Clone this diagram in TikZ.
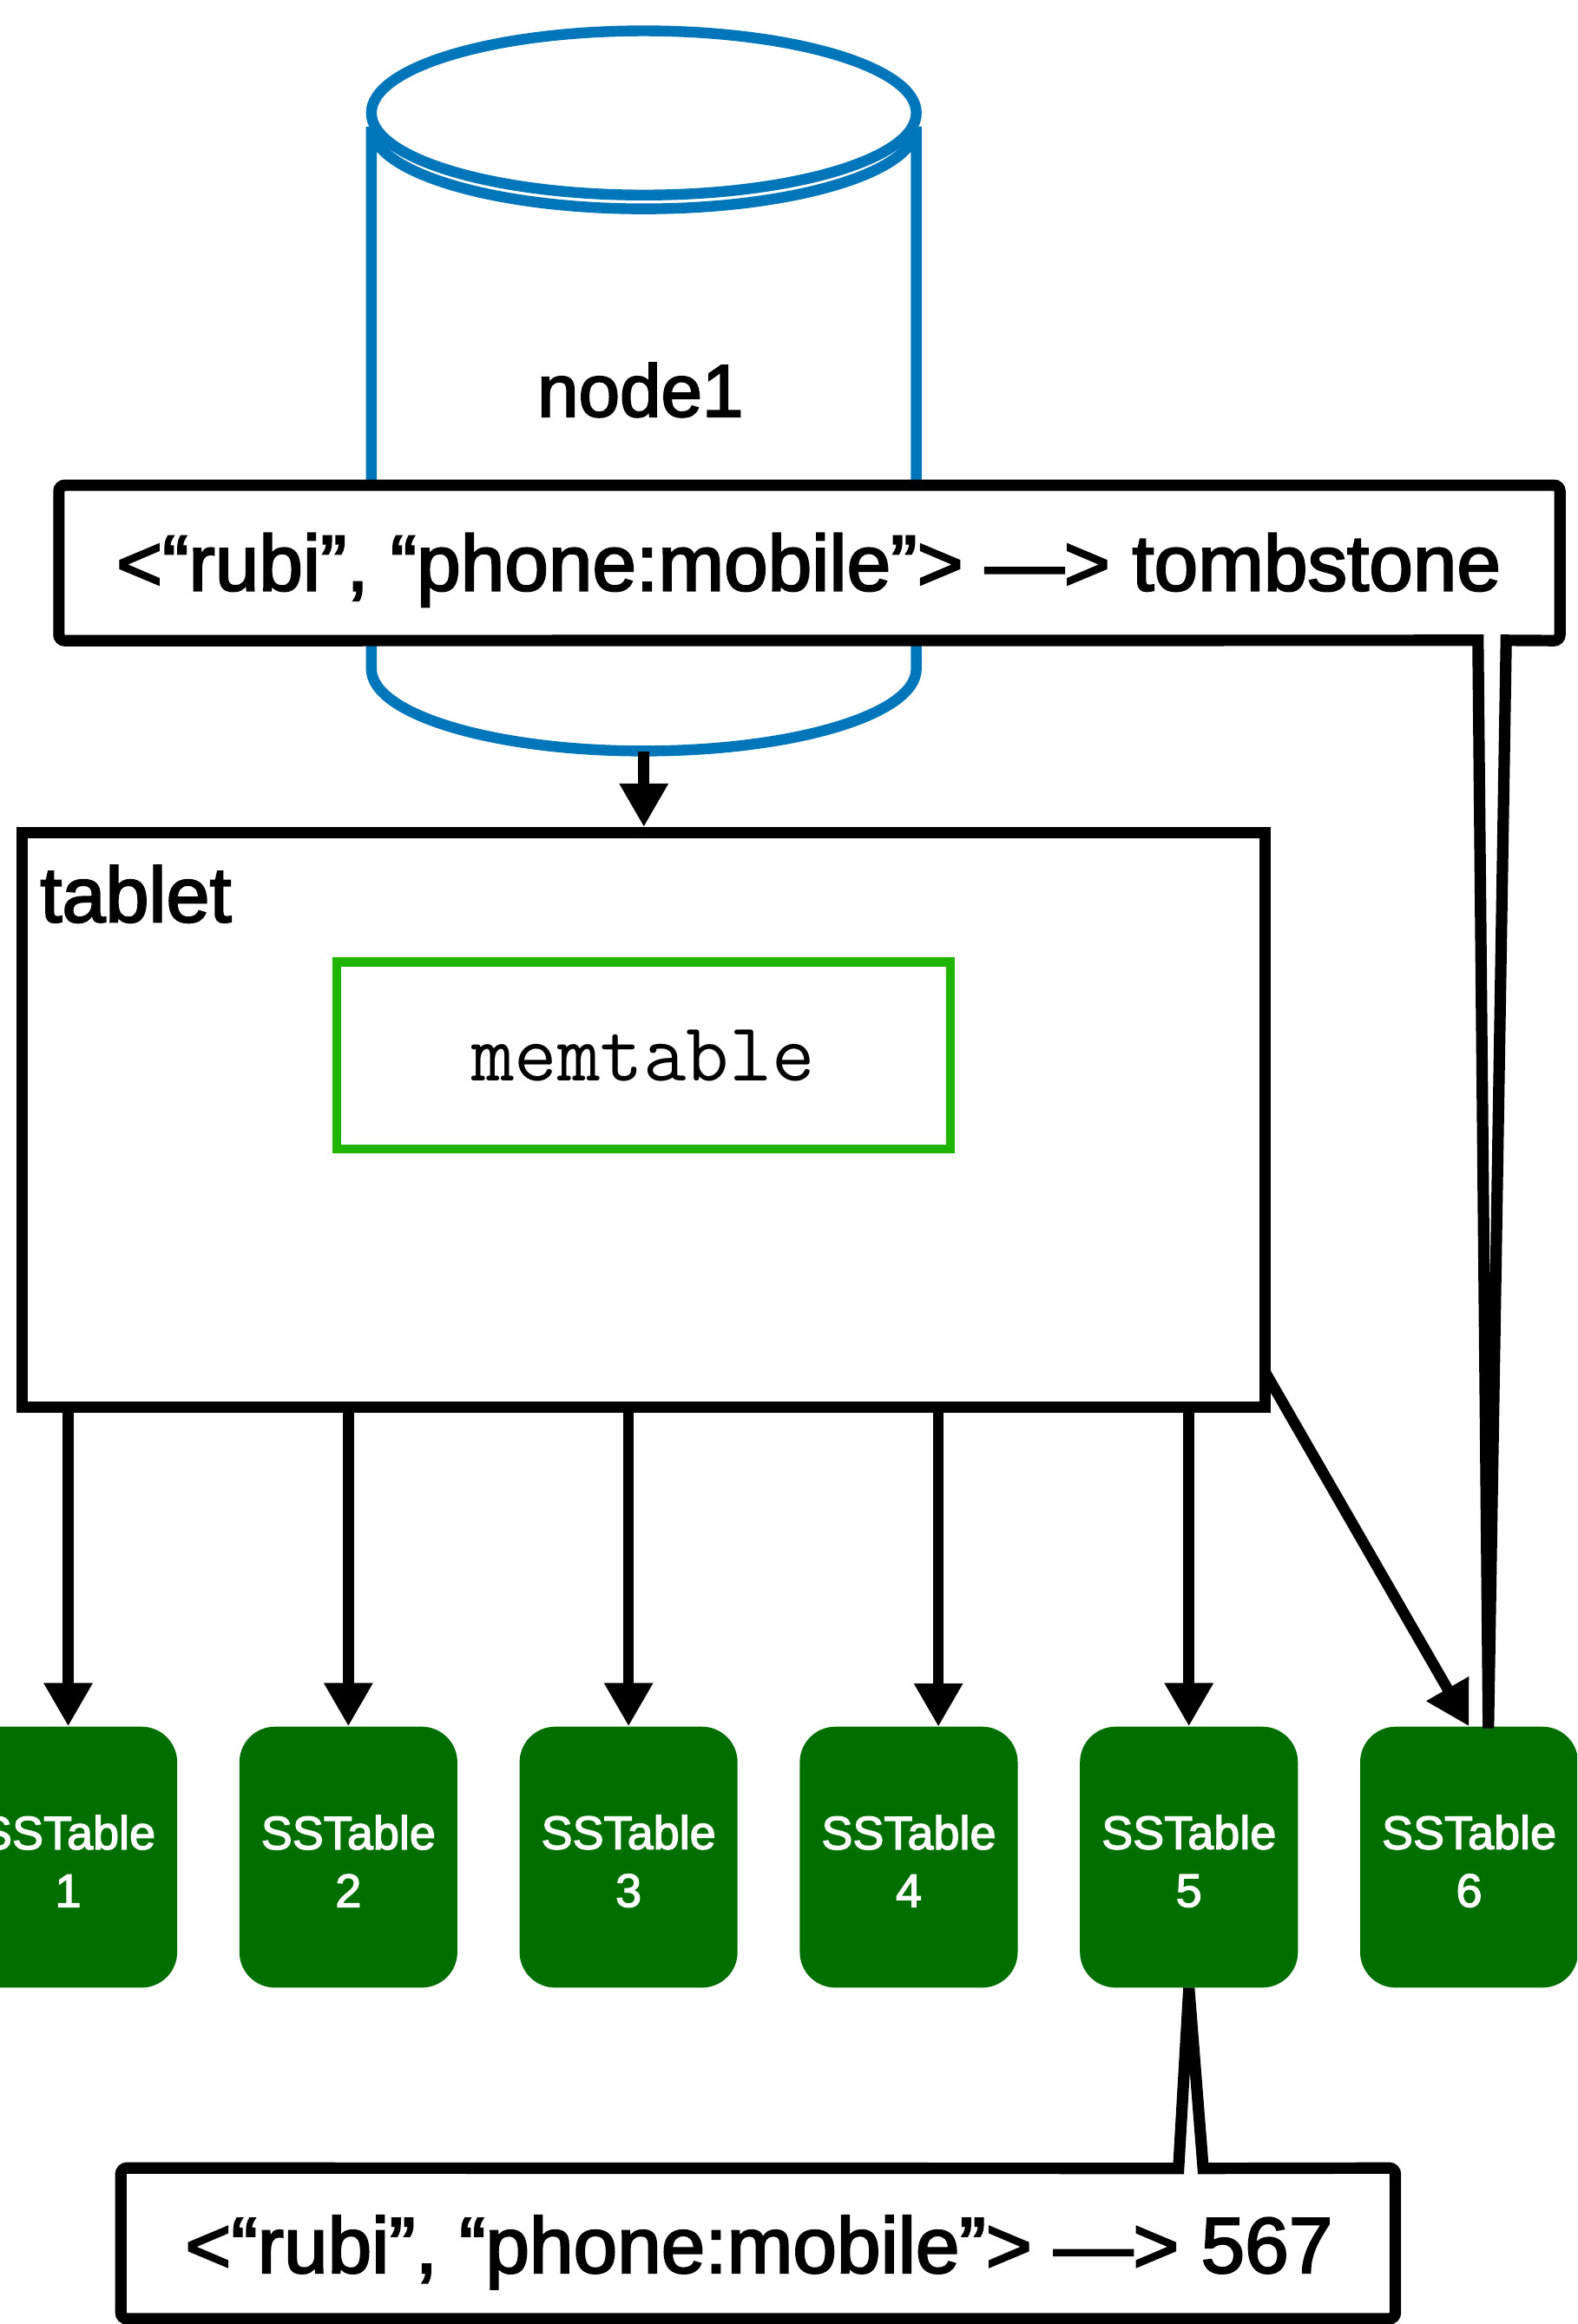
\documentclass[tikz,border=0pt]{standalone}
\usepackage{fontspec}
\setmainfont{Liberation Sans}
\newfontfamily\medsans{Liberation Sans}[FakeBold=2.5]
\newfontfamily\typew{Latin Modern Mono}
\usetikzlibrary{arrows.meta,calc}
\definecolor{cylblue}{RGB}{0,118,186}
\definecolor{memgreen}{RGB}{30,180,0}
\definecolor{sstgreen}{RGB}{0,111,0}
\begin{document}
\begin{tikzpicture}[x=0.8543pt,y=-0.8543pt,
  blk/.style={draw=black,line width=6.5pt},
  arr/.style={draw=black,line width=6.3pt,-{Triangle[length=25pt,width=26.5pt]}},
  calloutline/.style={draw=black,fill=white,line width=6.6pt},
  bigtext/.style={inner sep=0pt,font=\medsans\fontsize{45.5pt}{52pt}\selectfont},
  sst/.style={fill=sstgreen,rounded corners=20.5pt,minimum width=125.6pt,minimum height=150.4pt,inner sep=0pt},
  ssttext/.style={text=white,align=center,inner sep=0pt,font=\medsans\fontsize{27pt}{33.3pt}\selectfont},
  cylline/.style={draw=cylblue,fill=white,line width=6.2pt},
]
\useasboundingbox (0,0) rectangle (1064,1568);
\clip (0,0) rectangle (1064,1568);
\fill[white] (0,0) rectangle (1064,1568);

% cylinder (datastore)
\node[minimum width=314pt,minimum height=415.1pt,inner sep=0pt] (cyl) at (434.3,263.75) {};
\draw[cylline]
  (250.5,85.5) arc[start angle=180,end angle=0,x radius=183.8,y radius=55.4]
  -- (618.1,451.3) arc[start angle=0,end angle=180,x radius=183.8,y radius=55.4] -- cycle;
\draw[cylline] (434.3,76.2) ellipse[x radius=183.8,y radius=55.4];
\node[anchor=base,inner sep=0pt,font=\medsans\fontsize{42.7pt}{50pt}\selectfont] (lbl) at (432,281) {node1};

% tablet
\node[blk,fill=white,minimum width=716.3pt,minimum height=331.4pt,inner sep=0pt] (tablet) at (434.3,755.7) {};
\node[anchor=base west,inner sep=0pt,font=\medsans\fontsize{45pt}{52pt}\selectfont] (tlab) at (27,622) {tablet};
\node[draw=memgreen,line width=5.1pt,minimum width=353.7pt,minimum height=107.6pt,inner sep=0pt,font=\typew\fontsize{48pt}{54pt}\selectfont] (mem) at (434,712) {memtable};

\draw[arr] (cyl.south) -- (tablet.north);

% SSTables
\foreach \i in {1,...,6}{
  \node[sst] (sst\i) at ({46+189*(\i-1)},1253) {};
  \node[ssttext,yshift=-2.3pt] (sstl\i) at (sst\i.center) {SSTable\\\i};
}
\coordinate (t4) at (633,1165);
\draw[arr] (tablet.south -| sst1.north) -- (sst1.north);
\draw[arr] (tablet.south -| sst2.north) -- (sst2.north);
\draw[arr] (tablet.south -| sst3.north) -- (sst3.north);
\draw[arr] (tablet.south -| t4) -- (t4);
\draw[arr] (tablet.south -| sst5.north) -- (sst5.north);
\coordinate (d0) at (853,925);
\draw[arr] (d0) -- (sst6.north);

% top callout
\node[minimum width=864.6pt,minimum height=89.2pt,inner sep=0pt] (cb1) at (546,379.8) {};
\coordinate (tl1) at (997,432);
\coordinate (tr1) at (1016,432);
\coordinate (tip1) at (1004,1166);
\draw[calloutline] (tl1) [rounded corners=3.5pt] -- (cb1.south west) -- (cb1.north west) -- (cb1.north east) -- (cb1.south east) [sharp corners] -- (tr1) -- (tip1) -- cycle;
\node[bigtext,anchor=base] (cb1t) at (545.5,398.4) {<“rubi”, “phone:mobile”> —> tombstone};

% bottom callout
\node[minimum width=734pt,minimum height=86.5pt,inner sep=0pt] (cb2) at (511.4,1513.6) {};
\coordinate (tl2) at (795,1463);
\coordinate (tr2) at (811.6,1463);
\draw[calloutline] (tr2) [rounded corners=3.5pt] -- (cb2.north east) -- (cb2.south east) -- (cb2.south west) -- (cb2.north west) [sharp corners] -- (tl2) -- (sst5.south) -- cycle;
\node[bigtext,anchor=base] (cb2t) at (512,1533.4) {<“rubi”, “phone:mobile”> —> 567};
\end{tikzpicture}
\end{document}
